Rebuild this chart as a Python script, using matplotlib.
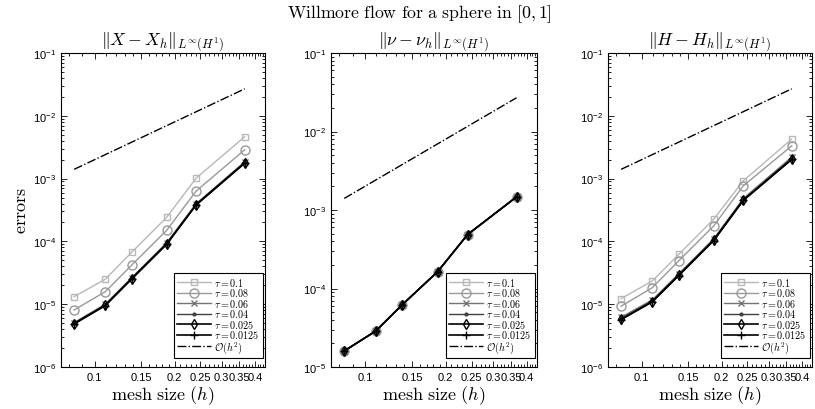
import matplotlib
matplotlib.use("Agg")
import matplotlib.pyplot as plt
import numpy as np
from matplotlib.ticker import FixedLocator, NullFormatter, LogLocator

plt.rcParams['font.family'] = ['Liberation Sans', 'DejaVu Sans']
plt.rcParams['mathtext.fontset'] = 'cm'

h = [0.0838, 0.1097, 0.1379, 0.1866, 0.2410, 0.3667]
taus = ["0.1", "0.08", "0.06", "0.04", "0.025", "0.0125"]

errX = {
    "0.1":    [1.32e-5, 2.50e-5, 6.70e-5, 2.42e-4, 1.02e-3, 4.65e-3],
    "0.08":   [8.10e-6, 1.58e-5, 4.20e-5, 1.50e-4, 6.35e-4, 2.88e-3],
    "0.06":   [5.10e-6, 1.00e-5, 2.65e-5, 9.50e-5, 4.00e-4, 1.85e-3],
    "0.04":   [4.95e-6, 9.70e-6, 2.58e-5, 9.20e-5, 3.90e-4, 1.80e-3],
    "0.025":  [4.90e-6, 9.60e-6, 2.55e-5, 9.10e-5, 3.85e-4, 1.78e-3],
    "0.0125": [4.85e-6, 9.50e-6, 2.52e-5, 9.00e-5, 3.82e-4, 1.76e-3],
}
errNu_common = [1.60e-5, 2.87e-5, 6.24e-5, 1.64e-4, 4.86e-4, 1.47e-3]
errNu = {t: errNu_common for t in taus}
errH = {
    "0.1":    [1.23e-5, 2.34e-5, 6.20e-5, 2.25e-4, 9.20e-4, 4.25e-3],
    "0.08":   [9.30e-6, 1.83e-5, 4.90e-5, 1.76e-4, 7.66e-4, 3.32e-3],
    "0.06":   [6.20e-6, 1.17e-5, 3.05e-5, 1.10e-4, 4.80e-4, 2.20e-3],
    "0.04":   [5.90e-6, 1.12e-5, 2.92e-5, 1.06e-4, 4.60e-4, 2.08e-3],
    "0.025":  [5.75e-6, 1.10e-5, 2.88e-5, 1.04e-4, 4.52e-4, 2.04e-3],
    "0.0125": [5.70e-6, 1.09e-5, 2.85e-5, 1.03e-4, 4.48e-4, 2.02e-3],
}
ref_coef = 0.2  # O(h^2) reference line: 0.2*h^2

titles = [r'$\|X-X_h\|_{L^\infty(H^1)}$', r'$\|\nu-\nu_h\|_{L^\infty(H^1)}$',
          r'$\|H-H_h\|_{L^\infty(H^1)}$']
ylims = [(1e-6, 1e-1), (1e-5, 1e-1), (1e-6, 1e-1)]
xticks = [0.1, 0.15, 0.2, 0.25, 0.3, 0.35, 0.4]
xticklabels = ["0.1", "0.15", "0.2", "0.25", "0.3", "0.35", "0.4"]

styles = {
    "0.1":    dict(color='0.72', marker='s', ms=5, mfc='none', lw=1.0),
    "0.08":   dict(color='0.60', marker='o', ms=6.5, mfc='none', lw=1.0),
    "0.06":   dict(color='0.45', marker='x', ms=4.5, lw=1.0),
    "0.04":   dict(color='0.25', marker='.', ms=4, lw=1.0),
    "0.025":  dict(color='0.0', marker='d', ms=5.5, mfc='none', lw=1.2),
    "0.0125": dict(color='0.0', marker='+', ms=6, lw=1.2),
}

fig = plt.figure(figsize=(8.15, 4.10), dpi=100)
W, H = 815, 410
boxes = [(61, 54, 265, 368), (331, 54, 537, 368), (608, 54, 812, 368)]
datasets = [errX, errNu, errH]

for i, (bx, data) in enumerate(zip(boxes, datasets)):
    l, t, r, b = bx
    ax = fig.add_axes([l / W, 1 - b / H, (r - l) / W, (b - t) / H])
    ax.set_xscale('log')
    ax.set_yscale('log')
    for tau in taus:
        ax.plot(h, data[tau], label=r'$\tau = %s$' % tau, **styles[tau])
    hh = np.array([h[0], h[-1]])
    ax.plot(hh, ref_coef * hh ** 2, 'k-.', lw=1.0, label=r'$\mathcal{O}(h^2)$')
    ax.set_xlim(0.0748, 0.437)
    ax.set_ylim(*ylims[i])
    ax.xaxis.set_major_locator(FixedLocator(xticks))
    ax.set_xticklabels(xticklabels)
    ax.xaxis.set_minor_locator(FixedLocator(np.arange(0.08, 0.44, 0.01)))
    ax.xaxis.set_minor_formatter(NullFormatter())
    ax.yaxis.set_major_locator(LogLocator(base=10, numticks=10))
    ax.yaxis.set_minor_locator(LogLocator(base=10, subs=np.arange(2, 10), numticks=10))
    ax.yaxis.set_minor_formatter(NullFormatter())
    ax.tick_params(which='both', direction='in', top=True, right=True, labelsize=8,
                   width=0.6)
    ax.tick_params(which='major', length=4)
    ax.tick_params(which='minor', length=2)
    for s in ax.spines.values():
        s.set_linewidth(0.8)
    ax.set_title(titles[i], fontsize=12.8, pad=3)
    ax.set_xlabel(r'$\mathrm{mesh\ size}\ (h)$', fontsize=13, labelpad=1)
    if i == 0:
        ax.set_ylabel(r'$\mathrm{errors}$', fontsize=13, labelpad=2)
    leg = ax.legend(loc='lower right', bbox_to_anchor=(0.99, 0.03), fontsize=7.3,
                    fancybox=False, edgecolor='k', framealpha=1, handlelength=3.4,
                    borderaxespad=0.0, labelspacing=-0.15, borderpad=0.3,
                    handletextpad=0.3)
    leg.get_frame().set_linewidth(0.8)

fig.text(419 / W, 1 - 14 / H, r'$\mathrm{Willmore\ flow\ for\ a\ sphere\ in\ }[0,1]$',
         ha='center', va='center', fontsize=12.8)

fig.savefig('out.png', dpi=100)
